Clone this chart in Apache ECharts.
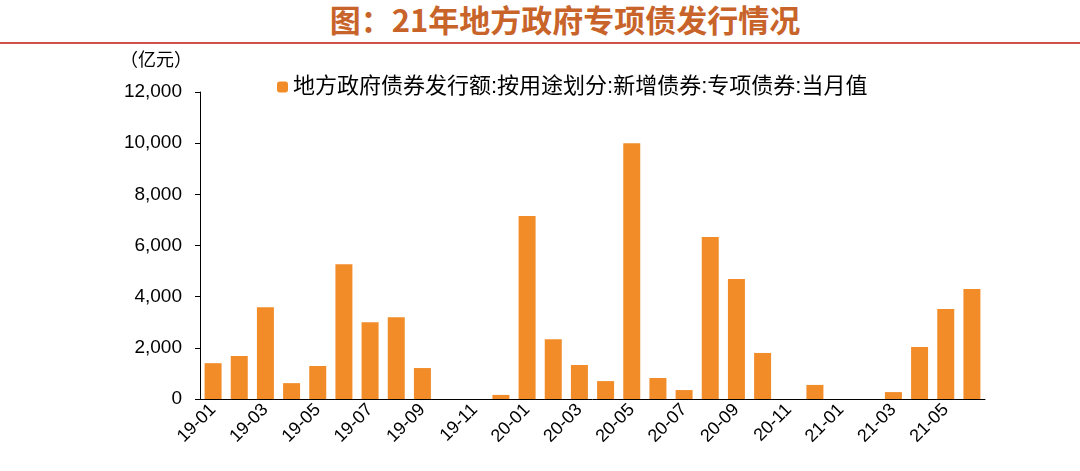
<!DOCTYPE html>
<html>
<head>
<meta charset="utf-8">
<script src="https://cdn.jsdelivr.net/npm/echarts@6/dist/echarts.min.js"></script>
<style>
body{margin:0;background:#fff;}
#title{position:absolute;left:0;top:0;width:1080px;height:44px;border-bottom:2px solid #d0504a;
 font-family:"Noto Sans CJK SC";font-weight:bold;font-size:31px;color:#c8642a;text-align:center;line-height:38px;padding-left:50px;box-sizing:border-box;}
#chart{position:absolute;left:0;top:0;width:1080px;height:471px;}
</style>
</head>
<body>
<div id="title">图：21年地方政府专项债发行情况</div>
<div id="chart"></div>
<script>
var months = ['19-01','19-02','19-03','19-04','19-05','19-06','19-07','19-08','19-09','19-10','19-11','19-12',
  '20-01','20-02','20-03','20-04','20-05','20-06','20-07','20-08','20-09','20-10','20-11','20-12',
  '21-01','21-02','21-03','21-04','21-05','21-06'];
var specialBond = [1400,1680,3590,620,1290,5270,3000,3200,1210,0,0,160,
  7150,2340,1330,700,10000,820,350,6330,4690,1800,0,550,
  0,0,270,2030,3520,4300];
var seriesName = '地方政府债券发行额:按用途划分:新增债券:专项债券:当月值';

var myChart = echarts.init(document.getElementById('chart'));
var font = 'Liberation Sans, Noto Sans CJK SC';
myChart.setOption({
  animation: false,
  grid: {left: 200, right: 95, top: 92, bottom: 72},
  legend: {
    data: [seriesName], top: 71, left: 272, itemWidth: 11, itemHeight: 11, itemGap: 5,
    textStyle: {fontFamily: font, fontSize: 22, color: '#000'}
  },
  graphic: [{type: 'text', left: 120, top: 50,
    style: {text: '（亿元）', font: '18px "Noto Sans CJK SC"', fill: '#000'}}],
  xAxis: {
    type: 'category', data: months,
    axisLine: {lineStyle: {color: '#000'}},
    axisTick: {show: false},
    axisLabel: {interval: 1, rotate: 45, fontFamily: font, fontSize: 18, color: '#000', margin: 8}
  },
  yAxis: {
    type: 'value', min: 0, max: 12000, interval: 2000,
    splitLine: {show: false},
    axisLine: {show: true, lineStyle: {color: '#000'}},
    axisTick: {show: true, inside: false, length: 5, lineStyle: {color: '#000'}},
    axisLabel: {fontFamily: font, fontSize: 19, color: '#000', margin: 18,
      formatter: function(v){ return v.toLocaleString('en-US'); }}
  },
  series: [{
    name: seriesName, type: 'bar', data: specialBond, barWidth: 17,
    itemStyle: {color: '#f28c28'}
  }]
});
</script>
</body>
</html>
